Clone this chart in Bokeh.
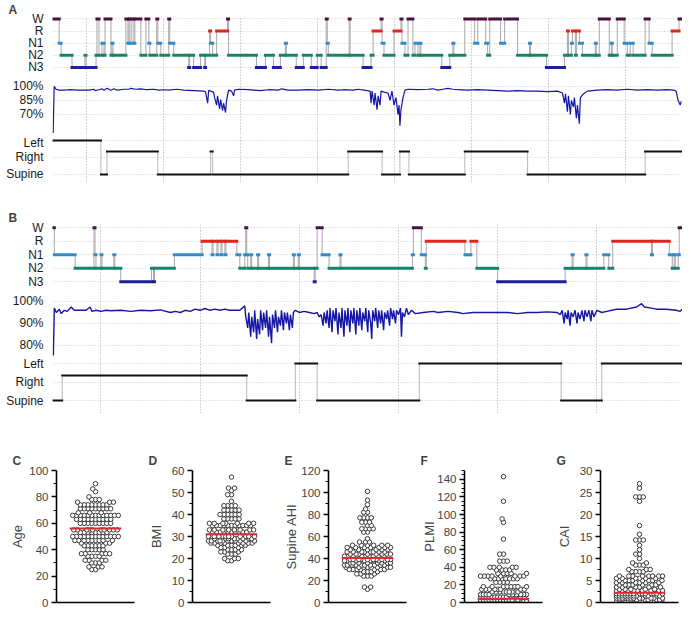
import math
import numpy as np
from bokeh.plotting import figure
from bokeh.layouts import column, row
from bokeh.models import Range1d, FixedTicker, PrintfTickFormatter, ColumnDataSource
from bokeh.embed import file_html
from bokeh.resources import INLINE

FONT = "Liberation Sans"

# ---------------- Panel A (times in minutes from lights-off) ----------------
a_hours = [25.6, 85.6, 145.6, 205.6, 265.6, 325.6, 385.6, 445.6]
a_stage_t = [0, 4.7, 6.2, 14.7, 24.8, 25.6, 33.4, 34.1, 35.7, 38.0, 39.6, 40.4, 45.0, 45.8, 46.6,
             56.6, 58.2, 59.0, 59.8, 61.3, 62.9, 63.6, 68.3, 72.2, 74.5, 75.3, 80.7, 81.5, 83.8,
             90.0, 90.8, 93.9, 105.5, 106.3, 109.4, 114.8, 118.0, 118.7, 121.8, 122.6, 124.2, 127.3,
             135.8, 136.6, 158.3, 165.3, 171.5, 176.9, 180.8, 181.6, 189.3, 194.8, 201.0, 205.6,
             208.7, 212.6, 213.4, 214.2, 230.5, 231.2, 241.3, 247.5, 249.1, 255.3, 256.1, 257.6,
             265.4, 270.8, 271.6, 273.9, 276.3, 280.1, 281.7, 284.0, 285.6, 286.3, 302.6, 308.8,
             311.2, 312.0, 320.5, 328.2, 330.6, 336.8, 338.3, 339.9, 348.4, 351.5, 361.6, 370.9,
             371.7, 384.1, 398.1, 400.4, 401.2, 403.5, 404.3, 406.6, 407.4, 409.7, 412.1, 422.1,
             422.9, 425.2, 433.0, 434.6, 435.3, 439.2, 444.6, 447.0, 449.3, 451.6, 460.9, 464.0,
             466.4, 481.9, 487.3]
a_stage = ["W", "N1", "N2", "N3", "N2", "N3", "N2", "W", "N2", "N1", "N2", "W", "N2", "N1", "N2",
           "W", "N1", "W", "N1", "W", "N1", "W", "N2", "W", "N1", "N2", "W", "N1", "N2",
           "W", "N1", "N2", "N3", "N2", "N3", "N2", "N3", "N2", "R", "N1", "N2", "R",
           "W", "N2", "N3", "N2", "N3", "N2", "N1", "N2", "N3", "N2", "N3", "N2",
           "N3", "W", "N1", "N2", "W", "N2", "N3", "N2", "R", "W", "N1", "N2",
           "R", "W", "N1", "N2", "W", "N2", "N1", "N2", "N1", "N2", "N3", "N2",
           "N1", "N2", "W", "N1", "W", "N1", "N2", "W", "N1", "W", "N2", "N1",
           "N2", "N3", "N2", "R", "N2", "N1", "R", "N2", "R", "N1", "N2", "N1",
           "N2", "W", "N2", "N1", "N2", "W", "N1", "N2", "N1", "N2", "W", "N1",
           "N2", "R", "W"]
a_stage_end = 488.9

a_spo2_t = [0, 0.8, 2.3, 4.7, 8.5, 12.4, 20.2, 27.9, 31.8, 32.6,
            35.7, 38.0, 39.6, 41.9, 45.0, 47.3, 49.7, 55.1, 59.0, 60.5,
            64.4, 68.3, 72.9, 78.4, 82.2, 86.1, 90.0, 96.2, 101.7, 109.4,
            117.2, 118.7, 120.3, 121.1, 122.6, 124.9, 125.7, 127.3, 128.0, 129.6,
            130.4, 131.9, 132.7, 134.2, 135.0, 136.6, 138.9, 140.5, 141.2, 144.3,
            152.1, 161.4, 167.6, 175.4, 177.7, 183.1, 190.9, 198.7, 206.4, 214.2,
            221.9, 225.8, 233.6, 237.5, 242.1, 246.8, 247.5, 248.3, 249.9, 250.6,
            252.2, 253.0, 254.5, 255.3, 257.6, 260.7, 262.3, 263.8, 265.4, 266.9,
            268.5, 269.3, 270.0, 270.8, 272.4, 273.9, 276.3, 284.0, 291.8, 295.7,
            299.5, 303.4, 307.3, 311.2, 315.1, 322.8, 330.6, 338.3, 346.1, 353.9,
            361.6, 369.4, 377.1, 384.9, 392.7, 396.5, 398.1, 398.9, 400.4, 401.2,
            402.7, 403.5, 405.1, 405.8, 407.4, 408.2, 409.7, 410.5, 412.8, 415.9,
            423.7, 431.5, 439.2, 447.0, 454.7, 462.5, 470.3, 478.0, 483.5, 485.0,
            486.6, 488.2, 489.0]
a_spo2 = [50, 100, 97, 96, 96, 96.5, 96, 96, 97, 95.5,
          96.5, 97.5, 96, 98, 96, 97.5, 96, 97, 97, 98,
          97, 97.5, 96.5, 97, 96, 96.5, 96, 97, 96, 95.5,
          95, 94, 82, 96, 95, 94, 88, 80, 90, 76,
          86, 74, 82, 72, 85, 96, 95, 90, 96, 97,
          96.5, 95.5, 96.5, 96, 97.5, 96, 96, 96.5, 96, 97,
          96, 96.5, 96, 97, 96, 95, 82, 95, 80, 93,
          75, 90, 80, 95, 94, 93, 85, 95, 80, 88,
          70, 80, 58, 75, 88, 96, 97, 96.5, 97, 97.5,
          96, 97, 98, 97, 96.5, 96, 96.5, 96, 95.5, 95,
          95.5, 95, 95, 94.5, 95, 93, 82, 92, 73, 90,
          70, 85, 78, 88, 66, 80, 60, 88, 92, 95,
          96, 96.5, 96, 97, 96, 96.5, 96, 96.5, 96, 95,
          85, 80, 84]

a_pos_t = [0, 37.2, 41.9, 81.5, 122.6, 124.2, 229.7, 256.1, 270.0, 277.0, 320.5, 369.4, 460.9]
a_pos = ["Left", "Supine", "Right", "Supine", "Right", "Supine", "Right", "Supine", "Right",
         "Supine", "Right", "Supine", "Right"]
a_pos_end = 490.4

# ---------------- Panel B ----------------
b_hours = [28.8, 88.8, 148.8, 208.8, 268.8, 328.8]
b_stage_t = [0, 0.6, 13.2, 24.6, 25.2, 25.8, 28.8, 29.4, 36.6, 37.2,
             40.8, 59.4, 60.6, 61.2, 73.2, 90, 96, 96.6, 99, 99.6,
             101.4, 102, 103.8, 104.4, 111, 112.8, 115.8, 116.4, 117, 117.6,
             119.4, 120, 123.6, 124.2, 130.2, 130.8, 145.2, 145.8, 148.2, 148.8,
             157.8, 158.4, 159.6, 162.6, 166.8, 173.4, 174, 217.2, 217.8, 222.6,
             225, 225.6, 249, 252.6, 256.2, 268.8, 309.6, 313.8, 314.4, 322.2,
             322.8, 333, 336, 338.4, 361.8, 362.4, 372.6, 374.4, 375.6, 376.2,
             378, 378.6]
b_stage = ["W", "N1", "N2", "W", "N1", "N2", "N1", "N2", "N1", "N2",
           "N3", "N2", "N3", "N2", "N1", "R", "N1", "R", "N1", "R",
           "N1", "R", "N1", "R", "N1", "N2", "N1", "W", "N1", "N2",
           "N1", "N2", "N1", "N2", "N1", "N2", "N1", "N2", "N1", "N2",
           "N3", "N2", "W", "N1", "N2", "N1", "N2", "N1", "W", "N1",
           "N2", "R", "N1", "R", "N2", "N3", "N2", "N1", "N2", "N1",
           "N2", "N1", "N2", "R", "N1", "R", "N1", "N2", "N1", "N2",
           "N1", "W"]
b_stage_end = 380.4

b_spo2_t = [0, 0.6, 1.8, 3.6, 4.8, 6.6, 8.4, 10.8, 12.6, 15.6,
            19.8, 22.2, 23.4, 25.8, 28.8, 31.8, 34.8, 40.8, 46.8, 52.8,
            58.8, 64.8, 70.8, 73.8, 76.8, 79.8, 82.8, 85.8, 88.8, 91.8,
            94.8, 97.8, 100.8, 103.8, 106.8, 112.8, 115.8, 116.4, 117.6, 118.2,
            119.4, 120, 121.2, 121.8, 123, 123.6, 124.8, 125.4, 126.6, 127.2,
            128.4, 129, 130.2, 130.8, 132, 132.6, 133.8, 134.4, 135.6, 136.2,
            137.4, 138, 139.2, 139.8, 141, 141.6, 142.8, 143.4, 144.6, 145.2,
            146.4, 148.8, 151.8, 154.8, 157.8, 159.6, 160.8, 162, 163.2, 163.8,
            165, 165.6, 166.8, 167.4, 168.6, 169.2, 170.4, 171, 172.2, 172.8,
            174, 174.6, 175.8, 176.4, 177.6, 178.2, 179.4, 180, 181.2, 181.8,
            183, 183.6, 184.8, 185.4, 186.6, 187.2, 188.4, 189, 190.2, 190.8,
            192, 192.6, 193.2, 194.4, 195, 196.2, 196.8, 198, 198.6, 199.8,
            200.4, 201.6, 202.2, 203.4, 204, 205.2, 205.8, 207, 207.6, 208.8,
            210, 210.6, 211.2, 212.4, 213.6, 214.8, 216.6, 219, 223.8, 229.8,
            232.8, 238.8, 244.8, 247.8, 253.8, 262.8, 268.8, 274.8, 280.8, 286.8,
            292.8, 298.8, 304.8, 306.6, 307.8, 309, 309.6, 310.8, 311.4, 312.6,
            313.2, 314.4, 315.6, 316.8, 317.4, 318.6, 319.8, 321, 321.6, 322.8,
            324, 325.2, 325.8, 327, 328.8, 331.8, 334.8, 337.8, 340.8, 346.8,
            352.8, 355.8, 357.6, 361.8, 364.8, 370.8, 376.8, 379.2, 380.4]
b_spo2 = [75.5, 97, 95, 96.5, 94.5, 96, 95.5, 97.5, 96, 96,
          96, 97.5, 95.5, 96, 95.5, 96, 95.8, 96, 95.5, 96,
          95.8, 96.2, 95, 95.5, 95, 96, 95.5, 96.5, 96, 96.8,
          96, 96.5, 96, 96.5, 96, 96, 98, 93, 88, 95,
          84, 93, 86, 96, 83, 92, 85, 96, 87, 95,
          88, 96, 84, 93, 81, 94, 88, 96, 86, 93,
          89, 96, 87, 95, 90, 95, 87, 94, 88, 95,
          96, 95, 95.5, 95, 94.5, 95, 93, 94, 89, 95,
          90, 96, 88, 97, 86, 96, 91, 97, 85, 95,
          88, 97, 84, 96, 89, 97, 86, 96, 90, 97,
          85, 96, 89, 97, 87, 95, 91, 97, 86, 96,
          90, 83, 96, 91, 97, 88, 96, 90, 96, 87,
          95, 92, 96, 89, 97, 92, 96, 90, 96, 94,
          97, 84, 95, 93, 97, 94, 96, 94.5, 95, 95.5,
          95, 95.5, 95, 94.5, 95, 95, 95, 95, 94.5, 95,
          95, 95.3, 95, 94, 96, 90, 95, 92, 96, 89,
          95, 93, 96, 90, 95, 92, 96, 91, 96, 93,
          96, 91, 96, 93, 96, 95, 95.5, 96, 96.5, 96.5,
          97.5, 99, 97.5, 97, 96.5, 96.5, 96, 95.5, 96.5]

b_pos_t = [0, 5.4, 117, 146.4, 159.6, 221.4, 307.2, 331.8]
b_pos = ["Supine", "Right", "Supine", "Left", "Supine", "Left", "Supine", "Left"]
b_pos_end = 380.4

# ---------------- Panels C-G (value rows and number of patients per row) ----------------
age_vals = [90, 86, 84, 80, 78, 76, 74, 71, 68, 66, 63, 60, 55, 53, 50, 47, 45, 43, 40, 37, 35, 32, 30, 27, 25]
age_cnt = [1, 1, 1, 1, 3, 3, 8, 9, 3, 13, 10, 9, 10, 8, 13, 9, 3, 6, 5, 5, 4, 4, 3, 3, 2]
age_mean = 56

bmi_vals = [57, 52, 51, 49, 46, 44, 42, 40, 38, 36, 35, 33, 32, 30, 29, 28, 27, 26, 25, 24, 23, 22, 20, 19]
bmi_cnt = [1, 2, 1, 2, 1, 4, 5, 6, 5, 7, 11, 10, 10, 12, 8, 11, 8, 6, 3, 4, 3, 3, 3, 2]
bmi_mean = 31

ahi_vals = [101, 93, 89, 85, 82, 77, 73, 70, 67, 64, 58, 55, 52, 50, 48, 46, 44, 42, 39, 38, 36, 34, 32, 30, 28, 26, 24, 14, 12]
ahi_cnt = [1, 1, 1, 1, 2, 4, 3, 2, 4, 2, 1, 3, 6, 7, 6, 8, 8, 10, 10, 8, 8, 10, 8, 7, 4, 3, 3, 2, 1]
ahi_mean = 40.5

plmi_vals = [143, 115, 95, 91, 72, 55, 47, 40, 37, 33, 30, 27, 23, 18, 15, 12, 9, 6, 3, 1]
plmi_cnt = [1, 1, 1, 1, 1, 2, 3, 5, 4, 5, 8, 8, 4, 8, 8, 9, 10, 12, 14, 28]
plmi_mean = 4.3

cai_vals = [27, 26, 24, 23, 17.5, 15.5, 14.2, 13, 12, 11, 10, 9, 8.5, 7.5, 7, 6, 5.5, 5, 4.5, 4, 3.5, 3, 2.7, 2.0, 1.5, 1.0, 0.6, 0.3]
cai_cnt = [1, 1, 3, 1, 1, 1, 3, 1, 1, 2, 1, 2, 3, 3, 4, 8, 6, 8, 6, 7, 6, 5, 10, 14, 12, 12, 10, 12]
cai_mean = 2.2

# ---------------- styling ----------------
STAGE_LEVEL = {"N3": 0, "N2": 1, "N1": 2, "R": 3, "W": 4}
STAGE_COLOR = {"W": "#4a0e42", "R": "#e3241d", "N1": "#2f8bcb", "N2": "#17836d", "N3": "#1d1f9a"}
POS_LEVEL = {"Left": 2, "Right": 1.35, "Supine": 0}
W = 682


def track(height, xr, yr, ticks, hours, title=None, top=0):
    p = figure(title=title, width=W, height=height, x_range=xr, y_range=yr,
               output_backend="svg", toolbar_location=None,
               min_border_left=52, min_border_right=0, min_border_top=top, min_border_bottom=0)
    p.outline_line_color = None
    p.xaxis.visible = False
    ax = p.yaxis[0]
    ax.ticker = FixedTicker(ticks=ticks)
    ax.axis_line_color = None
    ax.major_tick_line_color = None
    ax.minor_tick_line_color = None
    ax.major_tick_out = 0
    ax.major_tick_in = 0
    ax.minor_tick_out = 0
    ax.minor_tick_in = 0
    ax.major_label_text_font = FONT
    ax.major_label_text_font_size = "12px"
    ax.major_label_text_color = "#1a1a1a"
    ax.major_label_standoff = 9
    p.xgrid.ticker = FixedTicker(ticks=hours)
    p.xgrid.grid_line_color = "#a6a6a6"
    p.xgrid.grid_line_dash = "1 2"
    p.ygrid.grid_line_color = "#cccccc"
    p.ygrid.grid_line_dash = "1 2"
    if title:
        p.title.align = "left"
        p.title.offset = -44
        p.title.standoff = 0
        p.title.text_font = FONT
        p.title.text_font_size = "12px"
        p.title.text_font_style = "bold"
    return p


def draw_steps(p, ts, states, end, level, color_of, width, vcolor):
    lv = [level[s] for s in states]
    ends = list(ts[1:]) + [end]
    p.segment(x0=ts[1:], y0=lv[:-1], x1=ts[1:], y1=lv[1:], line_color=vcolor, line_width=1)
    src = ColumnDataSource(dict(x0=ts, x1=ends, y=lv, c=[color_of(s) for s in states]))
    p.segment(x0="x0", y0="y", x1="x1", y1="y", line_color="c", line_width=width,
              line_cap="square", source=src)


def hyp_fig(ts, st, end, xr, hours, letter, height, top, yr):
    p = track(height, xr, yr, [0, 1, 2, 3, 4], hours, title=letter, top=top)
    p.yaxis[0].major_label_overrides = {4: "W", 3: "R", 2: "N1", 1: "N2", 0: "N3"}
    draw_steps(p, ts, st, end, STAGE_LEVEL, lambda s: STAGE_COLOR[s], 3, "#a8a8a8")
    return p


def spo2_fig(ts, vals, xr, hours, yr, ticks, height, lw):
    p = track(height, xr, yr, ticks, hours)
    p.yaxis[0].formatter = PrintfTickFormatter(format="%d%%")
    p.line(ts, vals, line_color="#1515a6", line_width=lw)
    return p


def pos_fig(ts, st, end, xr, hours, yr, height):
    p = track(height, xr, yr, [0, 1, 2], hours)
    p.yaxis[0].major_label_overrides = {2: "Left", 1: "Right", 0: "Supine"}
    draw_steps(p, ts, st, end, POS_LEVEL, lambda s: "#111111", 2, "#b8b8b8")
    return p


a_xr = Range1d(-0.5, 490)
b_xr = Range1d(-0.5, 380.6)
pa1 = hyp_fig(a_stage_t, a_stage, a_stage_end, a_xr, a_hours, "A", 73, 16, Range1d(-0.5, 4.2))
pa2 = spo2_fig(a_spo2_t, a_spo2, a_xr, a_hours, Range1d(47.4, 113.9), [70, 85, 100], 62, 1.2)
pa3 = pos_fig(a_pos_t, a_pos, a_pos_end, a_xr, a_hours, Range1d(-0.53, 2.29), 48)
pb1 = hyp_fig(b_stage_t, b_stage, b_stage_end, b_xr, b_hours, "B", 105, 41, Range1d(-0.5, 4.25))
pb2 = spo2_fig(b_spo2_t, b_spo2, b_xr, b_hours, Range1d(75.0, 105.9), [80, 90, 100], 68, 1.4)
pb3 = pos_fig(b_pos_t, b_pos, b_pos_end, b_xr, b_hours, Range1d(-0.7, 2.38), 57)


def swarm(vals, k, d=3.8, cap=23.0):
    placed = []
    out = []
    for v in vals:
        y = v * k
        near = [(px, py) for px, py in placed if abs(py - y) < d]
        cands = [0.0]
        for px, py in near:
            w = math.sqrt(max(d * d - (py - y) ** 2, 0.0))
            cands += [px - w, px + w]
        cands.sort(key=abs)
        chosen = None
        for c in cands:
            if abs(c) > cap + 1e-9:
                break
            if all((c - px) ** 2 + (y - py) ** 2 >= d * d - 1e-6 for px, py in near):
                chosen = c
                break
        if chosen is None:
            grid = [-cap + i * (2 * cap / 16) for i in range(17)]
            chosen = max(grid, key=lambda c: min((c - px) ** 2 + (y - py) ** 2 for px, py in near))
        placed.append((chosen, y))
        out.append(chosen)
    return out


def swarm_fig(letter, label, vals, cnts, mean, ymax, major, minor, lab_sd):
    p = figure(title=letter, width=136, height=201, x_range=Range1d(-1, 1), y_range=Range1d(0, ymax),
               output_backend="svg", toolbar_location=None,
               min_border_left=56, min_border_right=2, min_border_top=57, min_border_bottom=12)
    p.outline_line_color = None
    p.grid.visible = False
    p.title.align = "left"
    p.title.offset = -44
    p.title.standoff = 6
    p.title.text_font = FONT
    p.title.text_font_size = "12px"
    p.title.text_font_style = "bold"
    ax = p.yaxis[0]
    ax.ticker = FixedTicker(ticks=major, minor_ticks=minor)
    ax.axis_line_width = 1.6
    ax.major_tick_line_width = 1.4
    ax.minor_tick_line_width = 1.2
    ax.major_tick_out = 5
    ax.major_tick_in = 0
    ax.minor_tick_out = 3
    ax.minor_tick_in = 0
    ax.major_label_standoff = 3
    ax.major_label_text_font = FONT
    ax.major_label_text_font_size = "11.5px"
    ax.axis_label = label
    ax.axis_label_text_font = FONT
    ax.axis_label_text_font_size = "13px"
    ax.axis_label_text_font_style = "normal"
    ax.axis_label_standoff = lab_sd
    bx = p.xaxis[0]
    bx.ticker = FixedTicker(ticks=[])
    bx.axis_line_width = 1.6
    bx.major_tick_out = 0
    bx.minor_tick_out = 0
    bx.major_label_text_font_size = "0px"
    y = np.repeat(np.array(vals, dtype=float), cnts)
    y = np.sort(y)
    xs = swarm(list(y), 132.0 / ymax)
    x = [v / 39.0 for v in xs]
    p.scatter(x, y, size=4.5, marker="circle", fill_color="white", line_color="#3a3a3a", line_width=1)
    p.segment(x0=[-0.66], y0=[mean], x1=[0.66], y1=[mean], line_color="#df2a30", line_width=2)
    return p


pc = swarm_fig("C", "Age", age_vals, age_cnt, age_mean, 100, list(range(0, 101, 20)), list(range(10, 100, 20)), 1)
pd_ = swarm_fig("D", "BMI", bmi_vals, bmi_cnt, bmi_mean, 60, list(range(0, 61, 10)), list(range(5, 60, 10)), 5)
pe = swarm_fig("E", "Supine AHI", ahi_vals, ahi_cnt, ahi_mean, 120, list(range(0, 121, 20)), list(range(10, 120, 20)), -1)
pf = swarm_fig("F", "PLMI", plmi_vals, plmi_cnt, plmi_mean, 150, list(range(0, 141, 20)),
               [v for v in range(5, 151, 5) if v % 20 != 0], -3)
pg = swarm_fig("G", "CAI", cai_vals, cai_cnt, cai_mean, 30, list(range(0, 31, 5)), [2.5 + 5 * i for i in range(6)], 5)

layout = column(pa1, pa2, pa3, pb1, pb2, pb3, row(pc, pd_, pe, pf, pg))
open("out.html", "w").write(file_html(layout, INLINE))
